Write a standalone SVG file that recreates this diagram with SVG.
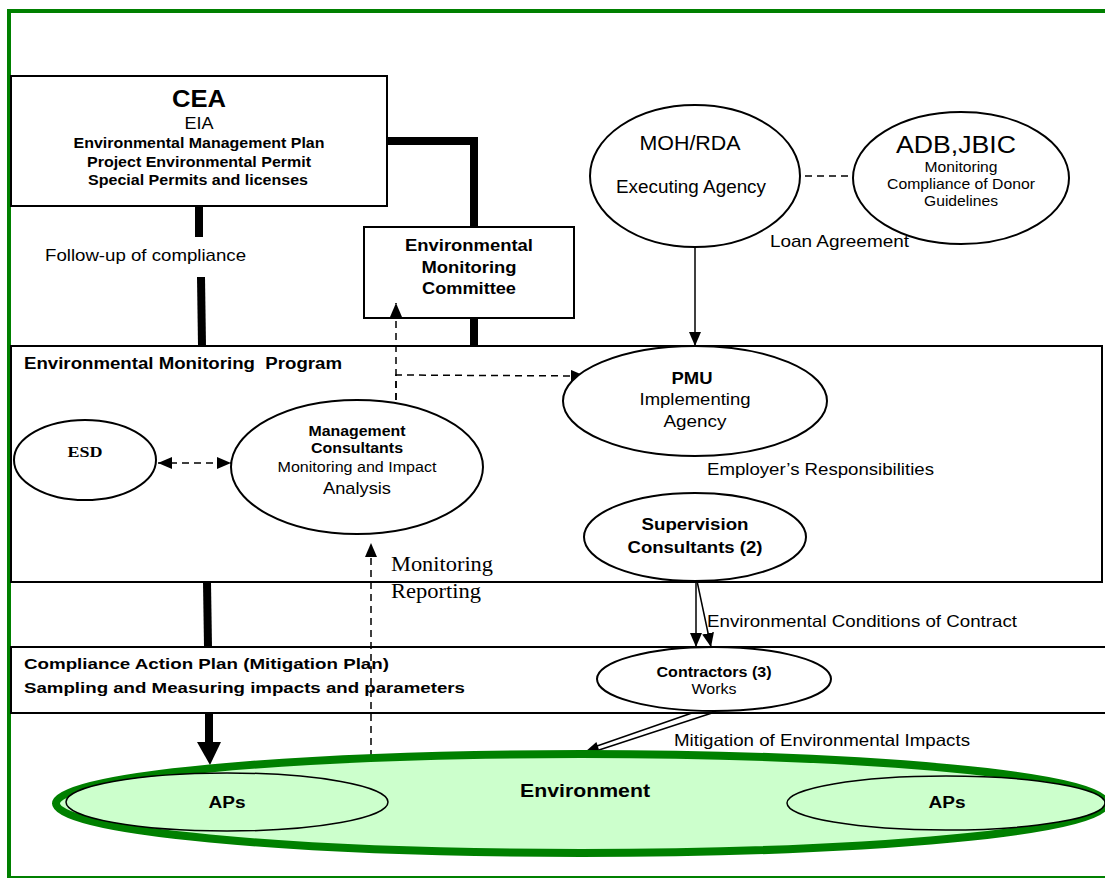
<svg xmlns="http://www.w3.org/2000/svg" width="1105" height="878" viewBox="0 0 1105 878">
<defs>
<style>
.s{font-family:"Liberation Sans",Arial,sans-serif;fill:#000}
.r{font-family:"Liberation Serif","Times New Roman",serif;fill:#000}
.b{font-weight:bold}
.m{text-anchor:middle}
.box{fill:#fff;stroke:#000;stroke-width:2}
.ell{fill:#fff;stroke:#000;stroke-width:2}
.thick{stroke:#000;stroke-width:8;fill:none}
.thin{stroke:#000;stroke-width:1.5;fill:none}
.dash{stroke:#000;stroke-width:1.5;fill:none;stroke-dasharray:7,5}
</style>
<marker id="ah" viewBox="0 0 14 12" refX="14" refY="6" markerWidth="14" markerHeight="12" markerUnits="userSpaceOnUse" orient="auto-start-reverse">
<path d="M0,0 L14,6 L0,12 Z" fill="#000"/>
</marker>
</defs>
<rect x="0" y="0" width="1105" height="878" fill="#fff"/>
<rect x="9" y="11" width="1110" height="867" fill="none" stroke="#008000" stroke-width="4"/>

<g id="connectors">
<line class="thick" x1="199" y1="206" x2="199" y2="237"/>
<line class="thick" x1="201" y1="277" x2="202" y2="346"/>
<polyline class="thick" points="387,141 474,141 474,346"/>
<line class="thick" x1="207" y1="582" x2="208" y2="647"/>
<line class="thick" x1="209" y1="713" x2="209" y2="745"/>
<path d="M197,742 L221,742 L210,765 Z" fill="#000"/>
<line class="dash" x1="805" y1="176" x2="853" y2="176"/>
<line class="thin" x1="695" y1="247" x2="695" y2="346" marker-end="url(#ah)"/>
</g>

<g id="cea">
<rect class="box" x="11" y="76" width="376" height="130"/>
<text class="s b m" x="199" y="107" font-size="23" textLength="54" lengthAdjust="spacingAndGlyphs">CEA</text>
<text class="s m" x="199" y="129" font-size="17" textLength="29" lengthAdjust="spacingAndGlyphs">EIA</text>
<text class="s b m" x="199" y="148" font-size="14.5" textLength="251" lengthAdjust="spacingAndGlyphs">Environmental Management Plan</text>
<text class="s b m" x="199" y="167" font-size="14.5" textLength="224" lengthAdjust="spacingAndGlyphs">Project Environmental Permit</text>
<text class="s b m" x="198" y="185" font-size="14.5" textLength="220" lengthAdjust="spacingAndGlyphs">Special Permits and licenses</text>
</g>
<text id="followup" class="s" x="45" y="261" font-size="17" textLength="201" lengthAdjust="spacingAndGlyphs">Follow-up of compliance</text>

<g id="emc">
<rect class="box" x="364" y="227" width="210" height="91"/>
<text class="s b m" x="469" y="251" font-size="17" textLength="128" lengthAdjust="spacingAndGlyphs">Environmental</text>
<text class="s b m" x="469" y="273" font-size="17" textLength="95" lengthAdjust="spacingAndGlyphs">Monitoring</text>
<text class="s b m" x="469" y="294" font-size="17" textLength="94" lengthAdjust="spacingAndGlyphs">Committee</text>
</g>

<g id="moh">
<ellipse class="ell" cx="695" cy="176" rx="105" ry="71"/>
<text class="s m" x="690" y="150" font-size="20" textLength="101" lengthAdjust="spacingAndGlyphs">MOH/RDA</text>
<text class="s m" x="691" y="193" font-size="18" textLength="150" lengthAdjust="spacingAndGlyphs">Executing Agency</text>
</g>

<g id="adb">
<ellipse class="ell" cx="961" cy="178" rx="108" ry="66"/>
<text class="s m" x="956" y="153" font-size="23" textLength="120" lengthAdjust="spacingAndGlyphs">ADB,JBIC</text>
<text class="s m" x="961" y="172" font-size="14" textLength="73" lengthAdjust="spacingAndGlyphs">Monitoring</text>
<text class="s m" x="961" y="189" font-size="14" textLength="148" lengthAdjust="spacingAndGlyphs">Compliance of Donor</text>
<text class="s m" x="961" y="206" font-size="14" textLength="74" lengthAdjust="spacingAndGlyphs">Guidelines</text>
</g>
<text id="loan" class="s" x="770" y="247" font-size="17" textLength="139" lengthAdjust="spacingAndGlyphs">Loan Agreement</text>

<g id="program">
<rect class="box" x="11" y="346" width="1091" height="236"/>
<text class="s b" x="24" y="369" font-size="16" textLength="318" lengthAdjust="spacingAndGlyphs" style="white-space:pre">Environmental Monitoring  Program</text>
<text class="s" x="707" y="475" font-size="16.5" textLength="227" lengthAdjust="spacingAndGlyphs">Employer’s Responsibilities</text>
</g>

<g id="compliance">
<rect class="box" x="11" y="647" width="1100" height="66"/>
<text class="s b" x="24" y="669" font-size="15.5" textLength="365" lengthAdjust="spacingAndGlyphs">Compliance Action Plan (Mitigation Plan)</text>
<text class="s b" x="24" y="693" font-size="15.5" textLength="441" lengthAdjust="spacingAndGlyphs">Sampling and Measuring impacts and parameters</text>
</g>

<g id="connectors2">
<polyline class="dash" points="396,400 396,375 585,376" marker-end="url(#ah)"/>
<line class="dash" x1="396" y1="400" x2="396" y2="303" marker-end="url(#ah)"/>
<line class="dash" x1="158" y1="463" x2="231" y2="463" marker-start="url(#ah)" marker-end="url(#ah)"/>
<line class="dash" x1="371" y1="757" x2="371" y2="543" marker-end="url(#ah)"/>
<line class="thin" x1="696" y1="581" x2="696" y2="647" marker-end="url(#ah)"/>
<line class="thin" x1="697" y1="581" x2="711" y2="647" marker-end="url(#ah)"/>
<line class="thin" x1="692" y1="713" x2="597" y2="746"/>
<line class="thin" x1="712" y1="713" x2="599" y2="750"/>
<path d="M585,752 L596.4,741.9 L600.2,753.3 Z" fill="#000"/>
</g>

<g id="esd">
<ellipse class="ell" cx="85" cy="460" rx="71" ry="40"/>
<text class="r b m" x="85" y="457" font-size="15" textLength="35" lengthAdjust="spacingAndGlyphs">ESD</text>
</g>

<g id="mc">
<ellipse class="ell" cx="357" cy="467" rx="126" ry="67"/>
<text class="s b m" x="357" y="436" font-size="14" textLength="97" lengthAdjust="spacingAndGlyphs">Management</text>
<text class="s b m" x="357" y="453" font-size="14" textLength="92" lengthAdjust="spacingAndGlyphs">Consultants</text>
<text class="s m" x="357" y="472" font-size="14" textLength="159" lengthAdjust="spacingAndGlyphs">Monitoring and Impact</text>
<text class="s m" x="357" y="494" font-size="17" textLength="68" lengthAdjust="spacingAndGlyphs">Analysis</text>
</g>

<g id="pmu">
<ellipse class="ell" cx="695" cy="401" rx="132" ry="55"/>
<text class="s b m" x="692" y="384" font-size="17" textLength="41" lengthAdjust="spacingAndGlyphs">PMU</text>
<text class="s m" x="695" y="405" font-size="17" textLength="111" lengthAdjust="spacingAndGlyphs">Implementing</text>
<text class="s m" x="695" y="427" font-size="17" textLength="63" lengthAdjust="spacingAndGlyphs">Agency</text>
</g>

<g id="supervision">
<ellipse class="ell" cx="695" cy="537" rx="111" ry="44"/>
<text class="s b m" x="695" y="530" font-size="16.5" textLength="107" lengthAdjust="spacingAndGlyphs">Supervision</text>
<text class="s b m" x="695" y="553" font-size="16.5" textLength="135" lengthAdjust="spacingAndGlyphs">Consultants (2)</text>
</g>

<text class="s" x="707" y="627" font-size="16.5" textLength="310" lengthAdjust="spacingAndGlyphs">Environmental Conditions of Contract</text>
<text class="r" x="391" y="571" font-size="21" textLength="102" lengthAdjust="spacingAndGlyphs">Monitoring</text>
<text class="r" x="391" y="598" font-size="21" textLength="90" lengthAdjust="spacingAndGlyphs">Reporting</text>

<g id="contractors">
<ellipse class="ell" cx="714" cy="679" rx="117" ry="32"/>
<text class="s b m" x="714" y="677" font-size="14" textLength="115" lengthAdjust="spacingAndGlyphs">Contractors (3)</text>
<text class="s m" x="714" y="694" font-size="14" textLength="45" lengthAdjust="spacingAndGlyphs">Works</text>
</g>
<text class="s" x="674" y="746" font-size="16.5" textLength="296" lengthAdjust="spacingAndGlyphs">Mitigation of Environmental Impacts</text>

<g id="environment">
<ellipse cx="581" cy="803.5" rx="525" ry="49.5" fill="#ccffcc" stroke="#008000" stroke-width="8"/>
<text class="s b m" x="585" y="797" font-size="19" textLength="130" lengthAdjust="spacingAndGlyphs">Environment</text>
</g>
<g id="aps-left">
<ellipse cx="227" cy="802" rx="161" ry="29" fill="#ccffcc" stroke="#000" stroke-width="1.5"/>
<text class="s b m" x="227" y="808" font-size="16" textLength="37" lengthAdjust="spacingAndGlyphs">APs</text>
</g>
<g id="aps-right">
<ellipse cx="946" cy="803" rx="159" ry="27" fill="#ccffcc" stroke="#000" stroke-width="1.5"/>
<text class="s b m" x="947" y="808" font-size="16" textLength="37" lengthAdjust="spacingAndGlyphs">APs</text>
</g>
</svg>
